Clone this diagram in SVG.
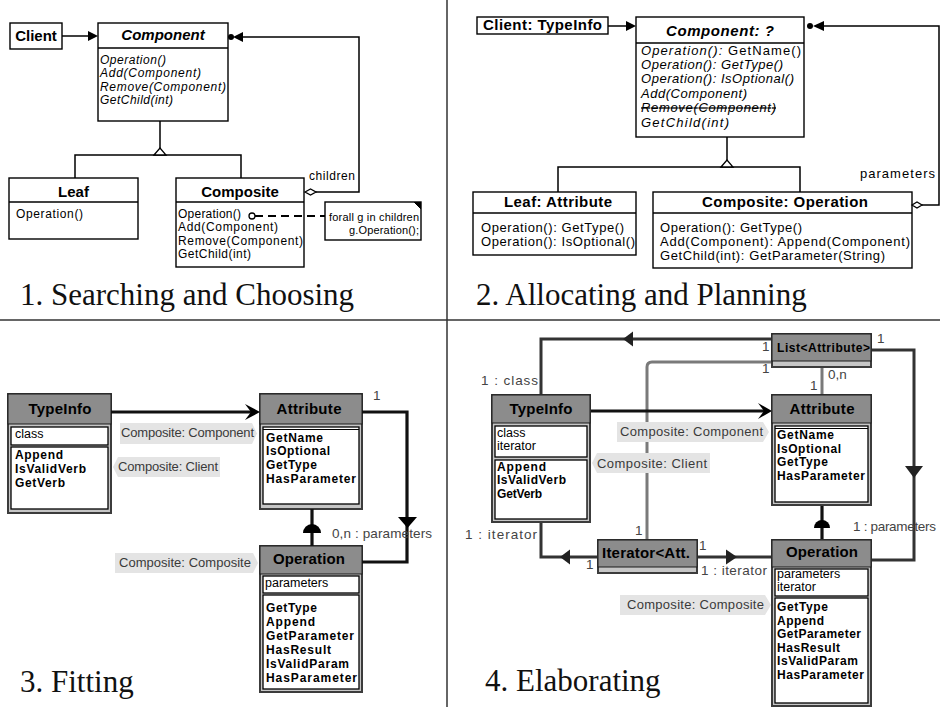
<svg xmlns="http://www.w3.org/2000/svg" width="940" height="707" viewBox="0 0 940 707">
<style>
text{font-family:"Liberation Sans",Arial,Helvetica,sans-serif;fill:#000}
.cap{font-family:"Liberation Serif","Times New Roman",serif;font-size:31px;fill:#111}
.box{fill:#fff;stroke:#000;stroke-width:1.4}
.ln{fill:none;stroke:#000;stroke-width:1.5}
.ah{fill:#000}
.hollow{fill:#fff;stroke:#000;stroke-width:1.3}
.h15{font-size:15px;font-weight:bold;text-anchor:middle}
.m13{font-size:12px}
.m2{font-size:13px}
.it{font-style:italic}
.frame{fill:#c6c6c6;stroke:#3c3c3c;stroke-width:2}
.head{fill:#8c8c8c;stroke:#1a1a1a;stroke-width:1}
.comp{fill:#fff;stroke:#000;stroke-width:1.3}
.cm{font-size:12px;font-weight:bold}
.ca{font-size:12.5px}
.tag{fill:#e4e4e4}
.tagt{font-size:13px;fill:#3a3a3a}
.lbl{font-size:13.5px;fill:#444}
.blk{fill:none;stroke:#111;stroke-width:3.2}
.dk{fill:none;stroke:#333;stroke-width:3}
.gr{fill:none;stroke:#7a7a7a;stroke-width:3}
.dah{fill:#222}
.div{stroke:#333;stroke-width:1.5}
</style>

<!-- panel dividers -->
<g id="dividers">
<line class="div" x1="447" y1="0" x2="447" y2="707"/>
<line class="div" x1="0" y1="320" x2="940" y2="320"/>
</g>

<!-- ===== panel 1: Composite pattern ===== -->
<g id="p1-client"><rect class="box" x="10" y="23" width="52" height="26"/><text class="h15" x="36" y="41">Client</text></g>
<g id="p1-component">
<rect class="box" x="98" y="23" width="130" height="98"/>
<line class="ln" x1="98" y1="48" x2="228" y2="48"/>
<text class="h15 it" x="163" y="40">Component</text>
<text class="m13 it" x="100" y="64" textLength="66">Operation()</text>
<text class="m13 it" x="100" y="77" textLength="101">Add(Component)</text>
<text class="m13 it" x="100" y="91" textLength="126">Remove(Component)</text>
<text class="m13 it" x="100" y="104" textLength="73">GetChild(int)</text>
</g>
<g id="p1-leaf">
<rect class="box" x="9" y="178" width="129" height="61"/>
<line class="ln" x1="9" y1="202" x2="138" y2="202"/>
<text class="h15" x="73.5" y="197">Leaf</text>
<text class="m13" x="16" y="218" textLength="67">Operation()</text>
</g>
<g id="p1-composite">
<rect class="box" x="176" y="178" width="128" height="89"/>
<line class="ln" x1="176" y1="202" x2="304" y2="202"/>
<text class="h15" x="240" y="197">Composite</text>
<text class="m13" x="178" y="218" textLength="63">Operation()</text>
<text class="m13" x="178" y="231" textLength="100">Add(Component)</text>
<text class="m13" x="178" y="245" textLength="125">Remove(Component)</text>
<text class="m13" x="178" y="258" textLength="73">GetChild(int)</text>
</g>
<g id="p1-note">
<rect class="box" x="325" y="202" width="96" height="38"/>
<polygon points="414,202 421,202 421,209" fill="#000"/>
<line x1="414" y1="202" x2="421" y2="209" stroke="#000" stroke-width="1"/>
<text font-size="11" text-anchor="end" x="419" y="221" textLength="90">forall g in children</text>
<text font-size="11" text-anchor="end" x="419" y="234" textLength="70">g.Operation();</text>
</g>
<text class="m13" x="309" y="180" textLength="46">children</text>
<text class="cap" x="20" y="305">1. Searching and Choosing</text>

<g id="p1-connectors">
<line class="ln" x1="62" y1="36" x2="89" y2="36"/>
<polygon class="ah" points="88,31 98,36 88,41"/>
<circle class="ah" cx="231" cy="37" r="3"/>
<polygon class="ah" points="233,37 243,32 243,42"/>
<polyline class="ln" points="243,37 359,37 359,192 316,192"/>
<polygon class="hollow" points="305,192 310.5,189 316,192 310.5,195"/>
<line class="ln" x1="160" y1="121" x2="160" y2="149"/>
<polyline class="ln" points="75,178 75,155 241,155 241,178"/>
<polygon class="hollow" points="154,155 160,148 166,155"/>
<circle class="hollow" cx="252" cy="216" r="3"/>
<line x1="255" y1="216" x2="325" y2="216" stroke="#000" stroke-width="2" stroke-dasharray="8,5"/>
</g>

<!-- ===== panel 2: roles assigned ===== -->
<g id="p2-client"><rect class="box" x="477" y="17" width="131" height="17"/><text class="h15" x="542.5" y="30" textLength="119">Client: TypeInfo</text></g>
<g id="p2-component">
<rect class="box" x="636" y="17" width="168" height="120"/>
<line class="ln" x1="636" y1="43" x2="804" y2="43"/>
<text class="h15 it" x="720" y="36" textLength="108">Component: ?</text>
<text class="m2" x="641" y="55" textLength="160"><tspan font-style="italic">Operation():</tspan> GetName()</text>
<text class="m2 it" x="641" y="69" textLength="142">Operation(): GetType()</text>
<text class="m2 it" x="641" y="83" textLength="153">Operation(): IsOptional()</text>
<text class="m2 it" x="641" y="98" textLength="106">Add(Component)</text>
<text class="m2 it" x="641" y="112" textLength="135" text-decoration="line-through">Remove(Component)</text>
<text class="m2 it" x="641" y="127" textLength="88">GetChild(int)</text>
</g>
<g id="p2-leaf">
<rect class="box" x="473" y="192" width="163" height="63"/>
<line class="ln" x1="473" y1="213" x2="636" y2="213"/>
<text class="h15" x="558" y="207" textLength="108">Leaf: Attribute</text>
<text class="m2" x="481" y="232" textLength="143">Operation(): GetType()</text>
<text class="m2" x="481" y="246" textLength="154">Operation(): IsOptional()</text>
</g>
<g id="p2-composite">
<rect class="box" x="653" y="192" width="259" height="76"/>
<line class="ln" x1="653" y1="213" x2="912" y2="213"/>
<text class="h15" x="785" y="207" textLength="166">Composite: Operation</text>
<text class="m2" x="660" y="232" textLength="142">Operation(): GetType()</text>
<text class="m2" x="660" y="246" textLength="250">Add(Component): Append(Component)</text>
<text class="m2" x="660" y="260" textLength="225">GetChild(int): GetParameter(String)</text>
</g>
<text class="m2" x="860" y="178" textLength="75">parameters</text>
<text class="cap" x="476" y="305">2. Allocating and Planning</text>

<g id="p2-connectors">
<line class="ln" x1="608" y1="26" x2="627" y2="26"/>
<polygon class="ah" points="626,21 636,26 626,31"/>
<circle class="ah" cx="810" cy="26" r="3"/>
<polygon class="ah" points="813,26 824,21 824,31"/>
<polyline class="ln" points="824,26 939,26 939,205 922,205"/>
<polygon class="hollow" points="912,205 917,202 922,205 917,208"/>
<line class="ln" x1="727" y1="137" x2="727" y2="161"/>
<polyline class="ln" points="558,192 558,167 800,167 800,192"/>
<polygon class="hollow" points="721,167 727,160 733,167"/>
</g>

<!-- ===== panel 3: fitting ===== -->
<g id="p3-typeinfo">
<rect class="frame" x="8" y="394" width="103" height="119"/>
<rect class="head" x="8" y="394" width="103" height="30"/>
<rect class="comp" x="11" y="427" width="97" height="18"/>
<rect class="comp" x="11" y="447" width="97" height="62"/>
<text class="h15" x="60" y="414" textLength="63">TypeInfo</text>
<text class="ca" x="15" y="438">class</text>
<text class="cm" x="15" y="459" textLength="48">Append</text>
<text class="cm" x="15" y="473" textLength="71">IsValidVerb</text>
<text class="cm" x="15" y="487" textLength="50">GetVerb</text>
</g>
<g id="p3-attribute">
<rect class="frame" x="260" y="394" width="102" height="115"/>
<rect class="head" x="260" y="394" width="102" height="30"/>
<rect class="comp" x="263" y="427" width="96" height="77"/>
<line x1="263" y1="429.5" x2="359" y2="429.5" stroke="#000" stroke-width="1"/>
<text class="h15" x="309" y="414" textLength="65">Attribute</text>
<text class="cm" x="266" y="442" textLength="57">GetName</text>
<text class="cm" x="266" y="455" textLength="64">IsOptional</text>
<text class="cm" x="266" y="469" textLength="51">GetType</text>
<text class="cm" x="266" y="483" textLength="90">HasParameter</text>
</g>
<g id="p3-operation">
<rect class="frame" x="260" y="546" width="102" height="146"/>
<rect class="head" x="260" y="546" width="102" height="28"/>
<rect class="comp" x="263" y="576" width="96" height="17"/>
<rect class="comp" x="263" y="595" width="96" height="94"/>
<text class="h15" x="309" y="564" textLength="72">Operation</text>
<text class="ca" x="265" y="587">parameters</text>
<text class="cm" x="266" y="612" textLength="51">GetType</text>
<text class="cm" x="266" y="626" textLength="49">Append</text>
<text class="cm" x="266" y="640" textLength="88">GetParameter</text>
<text class="cm" x="266" y="654" textLength="65">HasResult</text>
<text class="cm" x="266" y="668" textLength="83">IsValidParam</text>
<text class="cm" x="266" y="682" textLength="91">HasParameter</text>
</g>
<g id="p3-tags">
<path class="tag" d="M120,423 H252 L257,433.5 L252,444 H120 Z"/>
<text class="tagt" x="121" y="437" textLength="133">Composite: Component</text>
<path class="tag" d="M113,467 L118,457 H220 V477 H118 Z"/>
<text class="tagt" x="118" y="471" textLength="100">Composite: Client</text>
<path class="tag" d="M115,553 H253 L258,563 L253,573 H115 Z"/>
<text class="tagt" x="119" y="567" textLength="132">Composite: Composite</text>
</g>
<g id="p3-connectors">
<line class="blk" x1="111" y1="412" x2="256" y2="412"/>
<path class="ah" d="M245,404 L260,412 L245,420 L251,412 Z"/>
<polyline class="blk" points="362,412 407,412 407,562 362,562"/>
<polygon class="ah" points="398,517 417,517 407.5,528"/>
<line class="blk" x1="312" y1="509" x2="312" y2="546" stroke-width="3.6"/>
<path class="ah" d="M303,533 A9,9 0 0 1 321,533 Z"/>
</g>
<text class="lbl" x="373" y="400">1</text>
<text class="lbl" x="332" y="538" textLength="100">0,n : parameters</text>
<text class="cap" x="20" y="692">3. Fitting</text>

<!-- ===== panel 4: elaborating ===== -->
<g id="p4-connectors">
<polyline class="dk" points="541,395 541,339 772,339"/>
<polygon class="dah" points="623,339 633,331.5 633,346.5"/>
<path class="gr" d="M772,362 H652 Q647,362 647,367 V540"/>
<line class="gr" x1="822" y1="367" x2="822" y2="395"/>
<polyline class="dk" points="871,350 914,350 914,560 871,560"/>
<polygon class="dah" points="905,466 923,466 914,478"/>
<line class="blk" x1="590" y1="411" x2="768" y2="411"/>
<path class="ah" d="M758,403 L772,411 L758,419 L764,411 Z"/>
<polyline class="dk" points="541,522 541,557 598,557"/>
<polygon class="dah" points="560,557 570,549.5 570,564.5"/>
<line class="dk" x1="697" y1="557" x2="772" y2="557"/>
<polygon class="dah" points="737,557 726,549.5 726,564.5"/>
<line class="blk" x1="822" y1="505" x2="822" y2="540" stroke-width="3.6"/>
<path class="ah" d="M814,528 A8,8 0 0 1 830,528 Z"/>
</g>
<g id="p4-typeinfo">
<rect class="frame" x="492" y="395" width="98" height="127"/>
<rect class="head" x="492" y="395" width="98" height="28"/>
<rect class="comp" x="495" y="426" width="92" height="31"/>
<rect class="comp" x="495" y="460" width="92" height="59"/>
<text class="h15" x="541" y="414" textLength="63">TypeInfo</text>
<text class="ca" x="497" y="437">class</text>
<text class="ca" x="497" y="450">iterator</text>
<text class="cm" x="497" y="471" textLength="49">Append</text>
<text class="cm" x="497" y="484" textLength="69">IsValidVerb</text>
<text class="cm" x="497" y="498" font-size="11" textLength="45">GetVerb</text>
</g>
<g id="p4-list">
<rect class="frame" x="772" y="334" width="99" height="33"/>
<rect class="head" x="772" y="334" width="99" height="27"/>
<text class="cm" x="777" y="352" font-size="13" textLength="93">List&lt;Attribute&gt;</text>
</g>
<g id="p4-attribute">
<rect class="frame" x="772" y="395" width="99" height="110"/>
<rect class="head" x="772" y="395" width="99" height="28"/>
<rect class="comp" x="775" y="426" width="93" height="76"/>
<line x1="775" y1="428.5" x2="868" y2="428.5" stroke="#000" stroke-width="1"/>
<text class="h15" x="822" y="414" textLength="65">Attribute</text>
<text class="cm" x="777" y="439" textLength="57">GetName</text>
<text class="cm" x="777" y="453" textLength="64">IsOptional</text>
<text class="cm" x="777" y="466" textLength="51">GetType</text>
<text class="cm" x="777" y="480" textLength="88">HasParameter</text>
</g>
<g id="p4-iterator">
<rect class="frame" x="598" y="540" width="99" height="33"/>
<rect class="head" x="598" y="540" width="99" height="27"/>
<text class="h15" x="646" y="558" textLength="88">Iterator&lt;Att.</text>
</g>
<g id="p4-operation">
<rect class="frame" x="772" y="540" width="99" height="166"/>
<rect class="head" x="772" y="540" width="99" height="27"/>
<rect class="comp" x="775" y="569" width="93" height="27"/>
<rect class="comp" x="775" y="598" width="93" height="105"/>
<text class="h15" x="822" y="557" textLength="72">Operation</text>
<text class="ca" x="777" y="578">parameters</text>
<text class="ca" x="777" y="591">iterator</text>
<text class="cm" x="777" y="611" textLength="51">GetType</text>
<text class="cm" x="777" y="625" textLength="47">Append</text>
<text class="cm" x="777" y="638" textLength="84">GetParameter</text>
<text class="cm" x="777" y="652" textLength="63">HasResult</text>
<text class="cm" x="777" y="665" textLength="81">IsValidParam</text>
<text class="cm" x="777" y="679" textLength="87">HasParameter</text>
</g>
<g id="p4-tags">
<path class="tag" d="M617,422 H763 L769,432 L763,442 H617 Z"/>
<text class="tagt" x="620" y="436" font-size="13.5" textLength="143">Composite: Component</text>
<path class="tag" d="M592,463 L597,453 H710 V473 H597 Z"/>
<text class="tagt" x="597" y="468" font-size="13.5" textLength="110">Composite: Client</text>
<path class="tag" d="M620,595 H765 L771,605 L765,615 H620 Z"/>
<text class="tagt" x="627" y="609" font-size="13.5" textLength="137">Composite: Composite</text>
</g>
<g id="p4-labels">
<text class="lbl" x="481" y="385" font-size="15.5" textLength="57">1 : class</text>
<text class="lbl" x="762" y="351" font-size="15">1</text>
<text class="lbl" x="762" y="373" font-size="15">1</text>
<text class="lbl" x="877" y="343" font-size="13">1</text>
<text class="lbl" x="828" y="379" font-size="13">0,n</text>
<text class="lbl" x="810" y="390" font-size="13">1</text>
<text class="lbl" x="853" y="531" font-size="15" textLength="83">1 : parameters</text>
<text class="lbl" x="465" y="539" font-size="16" textLength="72">1 : iterator</text>
<text class="lbl" x="586" y="569" font-size="13">1</text>
<text class="lbl" x="635" y="535" font-size="14">1</text>
<text class="lbl" x="699" y="550" font-size="14">1</text>
<text class="lbl" x="701" y="575" font-size="15" textLength="66">1 : iterator</text>
</g>
<text class="cap" x="485" y="691">4. Elaborating</text>
</svg>
